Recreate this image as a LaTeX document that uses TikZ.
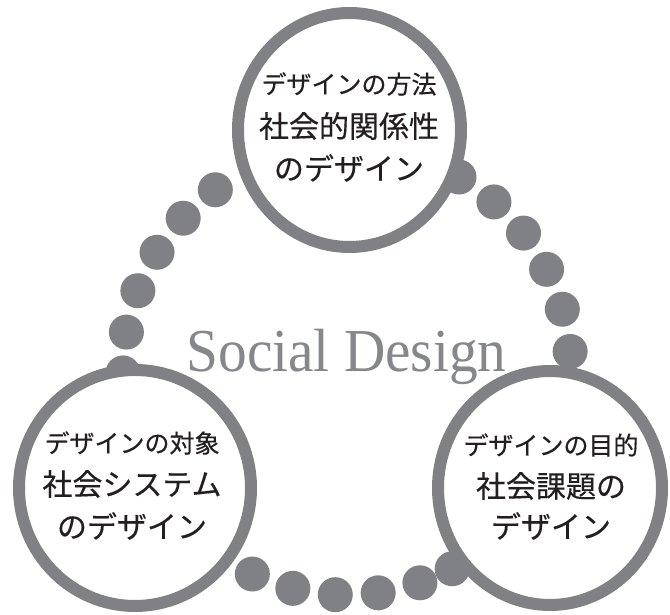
\documentclass[tikz,border=0pt]{standalone}
\usepackage{fontspec}
\setmainfont{Liberation Serif}
\newfontfamily\jp[FakeBold=0.4]{Noto Sans CJK JP}
\usetikzlibrary{shapes.geometric}
\definecolor{ringgray}{HTML}{808184}
\definecolor{txtgray}{HTML}{86878A}
\definecolor{inkc}{HTML}{231F20}
\begin{document}
\begin{tikzpicture}[x=1pt,y=1pt,
  ring/.style={ellipse, draw=ringgray, line width=12pt, fill=white, inner sep=0pt, outer sep=0pt},
  smalltxt/.style={font=\jp\fontsize{25}{30}\selectfont, text=inkc, inner sep=0pt},
  bigtxt/.style={font=\jp\fontsize{30}{36}\selectfont, text=inkc, inner sep=0pt},
  bead/.style={fill=ringgray}]
\useasboundingbox (0,0) rectangle (670,615);
\coordinate (hub) at (347,244);
\foreach \a in {5,16,27,38,49,60,126,137,148,159,170,180.5,245,256,267,278,289,298}
  \fill[bead] (hub) ++(\a:224) circle (17.5);
\node[ring, minimum width=223pt, minimum height=234pt] (top) at (349.5,485) {};
\node[ring, minimum width=232pt, minimum height=236pt] (left) at (135,127) {};
\node[ring, minimum width=224pt, minimum height=234pt] (right) at (550,127) {};
\node[font=\fontsize{61}{64}\selectfont, text=txtgray, anchor=base, inner sep=0pt, xscale=0.94] (sd) at (346.5,243) {Social Design};
% top circle text
\node[smalltxt] (t1) at (349,531) {デザインの方法};
\node[bigtxt] (t2) at (349,489) {社会的関係性};
\node[bigtxt] (t3) at (349,447) {のデザイン};
% left circle text
\node[smalltxt] (l1) at (132,172) {デザインの対象};
\node[bigtxt] (l2) at (132,131) {社会システム};
\node[bigtxt] (l3) at (132,89) {のデザイン};
% right circle text
\node[smalltxt] (r1) at (551,170) {デザインの目的};
\node[bigtxt] (r2) at (551,129) {社会課題の};
\node[bigtxt] (r3) at (551,89) {デザイン};
\end{tikzpicture}
\end{document}
